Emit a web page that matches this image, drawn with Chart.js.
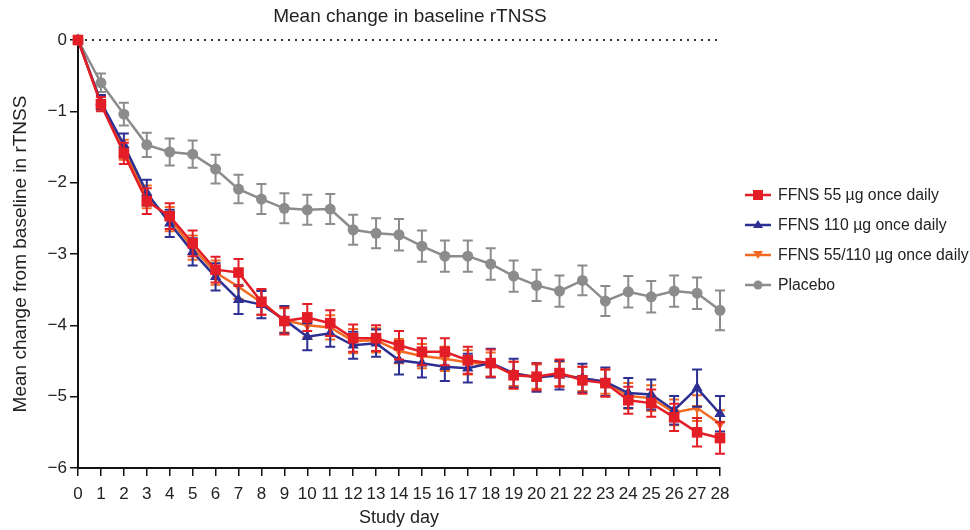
<!DOCTYPE html>
<html>
<head>
<meta charset="utf-8">
<script src="https://cdn.jsdelivr.net/npm/chart.js"></script>
<style>
  html, body { margin: 0; padding: 0; background: #fff; }
  #wrap { position: relative; width: 970px; height: 530px; font-family: 'Liberation Sans', Arial, sans-serif; }
  #chartTitle { position: absolute; top: 5px; left: 160px; width: 500px; text-align: center; font-size: 19px; color: #222; }
  #legend { position: absolute; left: 745px; top: 180px; white-space: nowrap; }
  .item { display: flex; align-items: center; height: 30px; font-size: 15.8px; color: #222; white-space: nowrap; }
  .item canvas { margin-right: 7px; flex: none; }
</style>
</head>
<body>
<div id="wrap">
  <canvas id="trendChart" width="970" height="530"></canvas>
  <div id="chartTitle">Mean change in baseline rTNSS</div>
  <div id="legend"></div>
</div>
<script>
// Study days 0..28
const days = ['0','1','2','3','4','5','6','7','8','9','10','11','12','13','14','15','16','17','18','19','20','21','22','23','24','25','26','27','28'];

// Mean change from baseline
const ffns55 = [0, -0.90, -1.59, -2.26, -2.47, -2.85, -3.22, -3.26, -3.67, -3.94, -3.89, -3.97, -4.18, -4.18, -4.28, -4.37, -4.37, -4.49, -4.53, -4.70, -4.72, -4.67, -4.77, -4.81, -5.05, -5.09, -5.29, -5.50, -5.58];
const ffns110 = [0, -0.87, -1.47, -2.14, -2.57, -2.97, -3.32, -3.64, -3.71, -3.92, -4.16, -4.11, -4.28, -4.25, -4.49, -4.53, -4.58, -4.60, -4.53, -4.67, -4.73, -4.70, -4.74, -4.79, -4.95, -4.97, -5.19, -4.88, -5.24];
const ffns55110 = [0, -0.88, -1.54, -2.20, -2.51, -2.91, -3.26, -3.46, -3.68, -3.93, -4.00, -4.03, -4.22, -4.21, -4.36, -4.43, -4.47, -4.52, -4.55, -4.68, -4.72, -4.68, -4.75, -4.79, -4.99, -5.02, -5.22, -5.16, -5.38];
const placebo = [0, -0.60, -1.04, -1.47, -1.57, -1.60, -1.81, -2.09, -2.23, -2.36, -2.38, -2.37, -2.66, -2.71, -2.73, -2.89, -3.03, -3.03, -3.14, -3.31, -3.44, -3.52, -3.37, -3.66, -3.53, -3.60, -3.52, -3.55, -3.79];

// Standard errors (half-length of the error bars)
const err55 = [0, 0.10, 0.15, 0.18, 0.18, 0.18, 0.18, 0.19, 0.18, 0.19, 0.19, 0.18, 0.19, 0.18, 0.20, 0.19, 0.19, 0.19, 0.19, 0.19, 0.19, 0.19, 0.19, 0.19, 0.19, 0.19, 0.19, 0.20, 0.22];
const err110 = [0, 0.10, 0.16, 0.18, 0.19, 0.19, 0.19, 0.20, 0.19, 0.19, 0.19, 0.19, 0.19, 0.19, 0.20, 0.20, 0.20, 0.20, 0.20, 0.20, 0.20, 0.20, 0.20, 0.20, 0.21, 0.21, 0.20, 0.26, 0.25];
const err55110 = [0, 0.09, 0.14, 0.16, 0.17, 0.17, 0.17, 0.17, 0.17, 0.17, 0.17, 0.17, 0.17, 0.17, 0.17, 0.17, 0.17, 0.17, 0.17, 0.17, 0.17, 0.17, 0.17, 0.17, 0.18, 0.18, 0.18, 0.18, 0.19];
const errPlacebo = [0, 0.13, 0.16, 0.17, 0.19, 0.19, 0.20, 0.20, 0.21, 0.21, 0.21, 0.21, 0.21, 0.21, 0.22, 0.22, 0.22, 0.22, 0.22, 0.22, 0.22, 0.22, 0.21, 0.21, 0.22, 0.22, 0.22, 0.22, 0.28];

const seriesNames = ['FFNS 55 µg once daily', 'FFNS 110 µg once daily', 'FFNS 55/110 µg once daily', 'Placebo'];
const yTicks = [0, -1, -2, -3, -4, -5, -6];

const RED = '#e31e26', BLUE = '#2d3092', ORANGE = '#f26a21', GREY = '#8c8c8c';

function series(label, data, errors, color, style, radius, rotation) {
    return {
        label, data, errors,
        borderColor: color,
        backgroundColor: color,
        borderWidth: 2.5,
        pointStyle: style,
        pointRadius: radius,
        pointRotation: rotation || 0,
        pointBorderWidth: 0,
        tension: 0,
        clip: false
    };
}

// error bars drawn right after each dataset, so layering follows the datasets
const errorBars = {
    id: 'errorBars',
    afterDatasetDraw(chart, args) {
        const ds = chart.data.datasets[args.index];
        if (!ds.errors) return;
        const { ctx, scales: { x, y } } = chart;
        ctx.save();
        ctx.strokeStyle = ds.borderColor;
        ctx.lineWidth = 2;
        ds.data.forEach((v, i) => {
            const e = ds.errors[i];
            if (!e) return;
            const px = x.getPixelForValue(i);
            const top = y.getPixelForValue(v + e);
            const bot = y.getPixelForValue(v - e);
            ctx.beginPath();
            ctx.moveTo(px, top); ctx.lineTo(px, bot);
            ctx.moveTo(px - 5, top); ctx.lineTo(px + 5, top);
            ctx.moveTo(px - 5, bot); ctx.lineTo(px + 5, bot);
            ctx.stroke();
        });
        ctx.restore();
    }
};

// dotted reference line at zero
const zeroLine = {
    id: 'zeroLine',
    beforeDatasetsDraw(chart) {
        const { ctx, chartArea, scales: { y } } = chart;
        const py = y.getPixelForValue(0);
        ctx.save();
        ctx.strokeStyle = '#333';
        ctx.lineWidth = 2;
        ctx.setLineDash([2, 5]);
        ctx.beginPath();
        ctx.moveTo(chartArea.left, py);
        ctx.lineTo(chartArea.right, py);
        ctx.stroke();
        ctx.restore();
    }
};

const datasets = [
    series(seriesNames[0], ffns55, err55, RED, 'rect', 7.5),
    series(seriesNames[1], ffns110, err110, BLUE, 'triangle', 6.5),
    series(seriesNames[2], ffns55110, err55110, ORANGE, 'triangle', 6, 180),
    series(seriesNames[3], placebo, errPlacebo, GREY, 'circle', 5.5)
];

const tickFont = { family: "'Liberation Sans', Arial, sans-serif", size: 17 };
const titleFont = { family: "'Liberation Sans', Arial, sans-serif", size: 18 };

new Chart(document.getElementById('trendChart'), {
    type: 'line',
    data: { labels: days, datasets },
    options: {
        responsive: false,
        animation: false,
        layout: { padding: { top: 40, right: 250, left: 0, bottom: 0 } },
        plugins: { legend: { display: false }, tooltip: { enabled: false } },
        scales: {
            x: {
                offset: false,
                grid: { drawOnChartArea: false, drawTicks: true, tickLength: 8, color: '#111', lineWidth: 1.5 },
                border: { display: true, color: '#111', width: 2 },
                ticks: { autoSkip: false, maxRotation: 0, color: '#222', font: tickFont, padding: 8 },
                title: { display: true, text: 'Study day', color: '#222', font: titleFont, padding: { top: 4, bottom: 1 } },
                afterFit(scale) { scale.height = 62; }
            },
            y: {
                min: -6, max: 0,
                afterBuildTicks(scale) { scale.ticks = yTicks.map(v => ({ value: v })); },
                grid: { drawOnChartArea: false, drawTicks: true, tickLength: 8, color: '#111', lineWidth: 1.5 },
                border: { display: true, color: '#111', width: 2 },
                ticks: { color: '#222', font: tickFont, padding: 3, callback: v => String(v).replace('-', '\u2212') },
                title: { display: true, text: 'Mean change from baseline in rTNSS', color: '#222', font: { family: titleFont.family, size: 19 }, padding: { top: 9, bottom: 0 } },
                afterFit(scale) { scale.width = 78; }
            }
        }
    },
    plugins: [zeroLine, errorBars]
});

// legend with line + marker swatches
const legendEl = document.getElementById('legend');
datasets.forEach(ds => {
    const row = document.createElement('div');
    row.className = 'item';
    const sw = document.createElement('canvas');
    sw.width = 26; sw.height = 14;
    const c = sw.getContext('2d');
    c.strokeStyle = ds.borderColor; c.fillStyle = ds.borderColor; c.lineWidth = 2.5;
    c.beginPath(); c.moveTo(0, 7); c.lineTo(26, 7); c.stroke();
    c.beginPath();
    if (ds.pointStyle === 'rect') c.rect(8, 2, 10, 10);
    else if (ds.pointStyle === 'circle') c.arc(13, 7, 4.5, 0, Math.PI * 2);
    else if (ds.pointRotation === 180) { c.moveTo(8, 3); c.lineTo(18, 3); c.lineTo(13, 11); }
    else { c.moveTo(13, 2); c.lineTo(18, 10); c.lineTo(8, 10); }
    c.fill();
    row.appendChild(sw);
    const t = document.createElement('span');
    t.textContent = ds.label;
    row.appendChild(t);
    legendEl.appendChild(row);
});
</script>
</body>
</html>
